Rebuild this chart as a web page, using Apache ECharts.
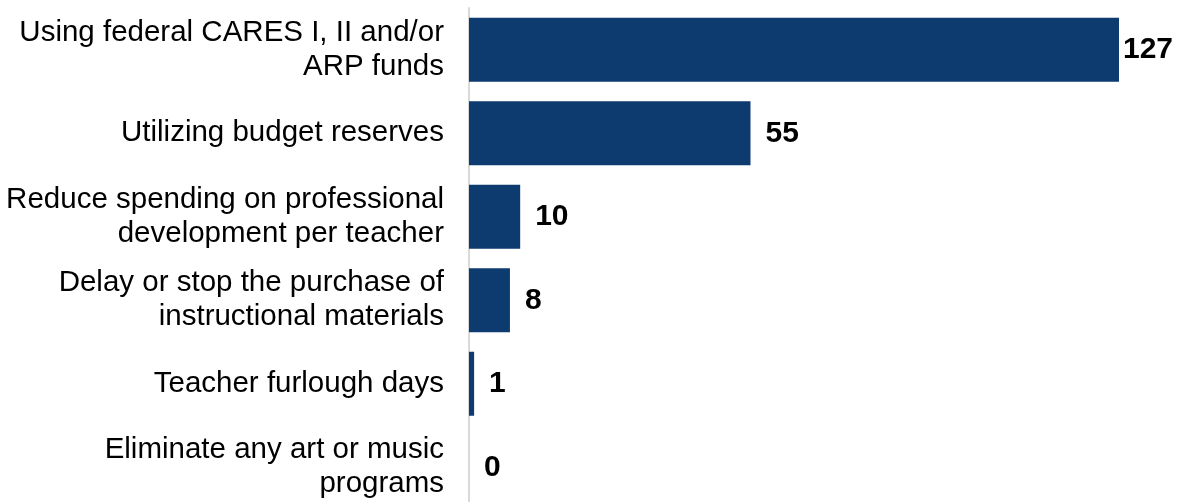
<!DOCTYPE html>
<html><head><meta charset="utf-8">
<script src="https://cdn.jsdelivr.net/npm/echarts@6/dist/echarts.min.js"></script>
<style>html,body{margin:0;padding:0;background:#fff}#c{width:1184px;height:502px}</style>
</head><body><div id="c"></div>
<script>
const categories = [
  "Using federal CARES I, II and/or\nARP funds",
  "Utilizing budget reserves",
  "Reduce spending on professional\ndevelopment per teacher",
  "Delay or stop the purchase of\ninstructional materials",
  "Teacher furlough days",
  "Eliminate any art or music\nprograms"
];
const values = [127, 55, 10, 8, 1, 0];

const FONT = '"Liberation Sans", Arial, sans-serif';
const chart = echarts.init(document.getElementById('c'));
chart.setOption({
  animation: false,
  grid: { left: 469, right: 65, top: 8, height: 501, outerBoundsMode: 'none' },
  xAxis: { type: 'value', min: 0, max: 127, show: false },
  yAxis: {
    type: 'category', inverse: true, data: categories,
    axisLine: { show: true, lineStyle: { color: '#d9d9d9', width: 2 } },
    axisTick: { show: false },
    axisLabel: { color: '#000', fontFamily: FONT, fontSize: 29.5, lineHeight: 34, align: 'right', margin: 25 }
  },
  series: [{
    type: 'bar', barWidth: 64,
    itemStyle: { color: '#0d3a6f' },
    data: values.map((v, i) => i === 0 ? { value: v, label: { distance: 4 } } : v),
    label: { show: true, position: 'right', distance: 15, color: '#000', fontWeight: 'bold', fontSize: 30, fontFamily: FONT }
  }]
});
</script></body></html>
